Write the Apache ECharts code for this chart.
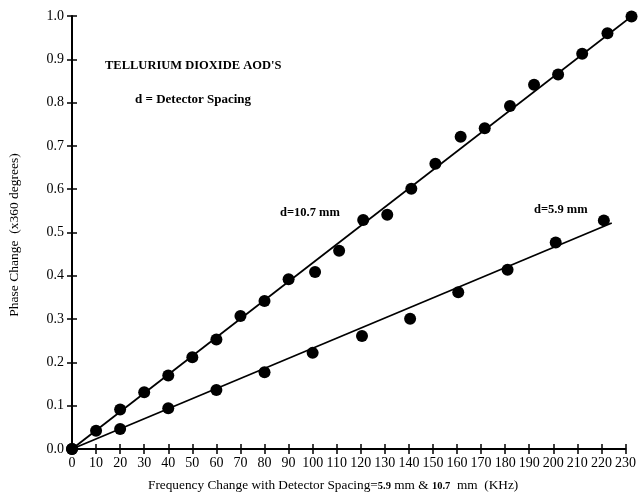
<!DOCTYPE html>
<html>
<head>
<meta charset="utf-8">
<script src="https://cdn.jsdelivr.net/npm/echarts@6/dist/echarts.min.js"></script>
<style>html,body{margin:0;padding:0;background:#fff}#c{width:639px;height:493px}</style>
</head>
<body>
<div id="c"></div>
<script>
// Data
const freq107 = [0,10,20,30,40,50,60,70,80,90,101,111,121,131,141,151,161.5,171.5,182,192,202,212,222.5,232.5];
const phase107 = [0,0.042,0.091,0.131,0.170,0.212,0.253,0.307,0.342,0.392,0.409,0.458,0.529,0.541,0.601,0.659,0.721,0.741,0.792,0.841,0.865,0.913,0.960,0.999];
const freq59 = [0,20,40,60,80,100,120.5,140.5,160.5,181,201,221];
const phase59 = [0,0.046,0.094,0.136,0.177,0.222,0.261,0.301,0.362,0.414,0.477,0.528];
const fit107X = [0,232.5];
const fit107Y = [0,0.999];
const fit59X = [0,224.3];
const fit59Y = [0,0.522];
const xTicks = {min:0,max:230,step:10};
const yTicks = {min:0,max:1.0,step:0.1};
const yTitle = 'Phase Change  (x360 degrees)';
const chartTitle = "TELLURIUM DIOXIDE AOD'S";
const subTitle = 'd = Detector Spacing';
const label107 = 'd=10.7 mm';
const label59 = 'd=5.9 mm';

const zip = (a,b) => a.map((v,i)=>[v,b[i]]);
const F = '"Liberation Serif", "DejaVu Serif", serif';
const chart = echarts.init(document.getElementById('c'), null, {renderer:'canvas'});
const grid = {left:72,right:12,top:16,bottom:44};
const axisCommon = {type:'value', splitLine:{show:false}};
chart.setOption({
  animation:false,
  backgroundColor:'#fff',
  grid,
  xAxis:[
    Object.assign({}, axisCommon, {min:xTicks.min,max:xTicks.max,interval:xTicks.step,
      axisLine:{onZero:false,lineStyle:{color:'#000',width:2}},
      axisTick:{show:true,inside:false,length:5,lineStyle:{color:'#000',width:1.5}},
      axisLabel:{color:'#000',fontFamily:F,fontSize:14,margin:7}}),
    Object.assign({}, axisCommon, {min:xTicks.min,max:xTicks.max,interval:xTicks.step,position:'bottom',
      axisLine:{show:false,onZero:false},
      axisTick:{show:true,inside:true,length:5,lineStyle:{color:'#000',width:1.5}},
      axisLabel:{show:false}})
  ],
  yAxis:[
    Object.assign({}, axisCommon, {min:yTicks.min,max:yTicks.max,interval:yTicks.step,
      axisLine:{show:true,onZero:false,lineStyle:{color:'#000',width:2}},
      axisTick:{show:true,inside:false,length:5,lineStyle:{color:'#000',width:1.5}},
      axisLabel:{color:'#000',fontFamily:F,fontSize:14,margin:8,formatter:v=>v.toFixed(1)}}),
    Object.assign({}, axisCommon, {min:yTicks.min,max:yTicks.max,interval:yTicks.step,position:'left',
      axisLine:{show:false,onZero:false},
      axisTick:{show:true,inside:true,length:5,lineStyle:{color:'#000',width:1.5}},
      axisLabel:{show:false}})
  ],
  series:[
    {type:'line',data:zip(fit107X,fit107Y),symbol:'none',clip:false,lineStyle:{color:'#000',width:1.8},silent:true},
    {type:'line',data:zip(fit59X,fit59Y),symbol:'none',clip:false,lineStyle:{color:'#000',width:1.8},silent:true},
    {type:'scatter',data:zip(freq107,phase107),clip:false,symbol:'circle',symbolSize:12,itemStyle:{color:'#000',opacity:1}},
    {type:'scatter',data:zip(freq59,phase59),clip:false,symbol:'circle',symbolSize:12,itemStyle:{color:'#000',opacity:1}}
  ],
  graphic:[
    {type:'text',left:105,top:59,style:{text:chartTitle,font:'bold 12.5px '+F,fill:'#000'}},
    {type:'text',left:135,top:93,style:{text:subTitle,font:'bold 13px '+F,fill:'#000'}},
    {type:'text',left:280,top:206,style:{text:label107,font:'bold 12.5px '+F,fill:'#000'}},
    {type:'text',left:534,top:203,style:{text:label59,font:'bold 12.5px '+F,fill:'#000'}},
    {type:'text',x:14,y:235,rotation:Math.PI/2,style:{text:yTitle,font:'13.5px '+F,fill:'#000',align:'center',verticalAlign:'middle'}},
    {type:'text',x:148,y:486,style:{
      text:'{n|Frequency Change with Detector Spacing=}{b|5.9}{n| mm & }{b|10.7}{n|  mm  (KHz)}',
      verticalAlign:'middle',
      rich:{n:{fontFamily:F,fontSize:13.3,fill:'#000'},b:{fontFamily:F,fontSize:10.5,fontWeight:'bold',fill:'#000'}}}}
  ]
});
</script>
</body>
</html>
